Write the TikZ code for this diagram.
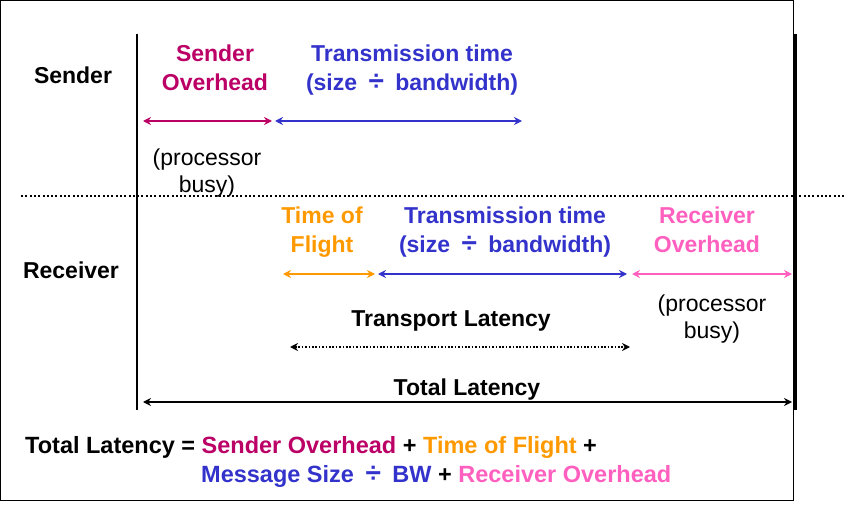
\documentclass[tikz,border=0pt]{standalone}
\usepackage{fontspec}
\setmainfont{Liberation Sans}
\usetikzlibrary{arrows.meta}
\definecolor{sendc}{RGB}{187,0,102}
\definecolor{bluec}{RGB}{51,51,204}
\definecolor{orangec}{RGB}{255,153,0}
\definecolor{pinkc}{RGB}{255,95,190}
\newcommand{\dvd}{\kern5pt{\fontsize{28}{29}\selectfont ÷}\kern5pt}
\tikzset{
  lbl/.style={font=\fontsize{23}{29}\selectfont\bfseries, align=center, inner sep=0pt},
  flbl/.style={font=\fontsize{23.5}{29}\selectfont\bfseries, inner sep=0pt, anchor=west},
  plain/.style={font=\fontsize{23}{27}\selectfont, align=center, inner sep=0pt},
  span/.style={line width=2.2pt, {Stealth[length=8pt,width=8pt]}-{Stealth[length=8pt,width=8pt]}},
}
\begin{document}
\begin{tikzpicture}[x=1pt,y=-1pt]
\useasboundingbox (0,0) rectangle (847,508);
\draw[line width=1pt] (0.5,0.5) rectangle (793,500);
% vertical lines
\coordinate (lt) at (137,34); \coordinate (lb) at (137,410);
\coordinate (rt) at (795,34); \coordinate (rb) at (795,410);
\draw[line width=2pt] (lt) -- (lb);
\draw[line width=3pt] (rt) -- (rb);
% dotted separator
\coordinate (ds) at (21,196); \coordinate (de) at (847,196);
\draw[line width=2pt, dash pattern=on 2pt off 2.3pt] (ds) -- (de);
% labels
\node[lbl] (sender) at (73,75) {Sender};
\node[lbl] (receiver) at (71,270) {Receiver};
\node[lbl, text=sendc] (so) at (215,68) {Sender\\Overhead};
\node[lbl, text=bluec] (tt1) at (412,70) {Transmission time\\(size \dvd{} bandwidth)};
\node[plain] (pb1) at (207,173) {(processor\\busy)};
\node[lbl, text=orangec] (tof) at (322,232) {Time of\\Flight};
\node[lbl, text=bluec] (tt2) at (505,232) {Transmission time\\(size \dvd{} bandwidth)};
\node[lbl, text=pinkc] (ro) at (707,230) {Receiver\\Overhead};
\node[plain] (pb2) at (712,319) {(processor\\busy)};
\node[lbl] (tl) at (451,321) {Transport Latency};
\node[lbl] (tot) at (467,390) {Total Latency};
% arrow endpoints
\coordinate (s1) at (143,121); \coordinate (s2) at (272,121);
\coordinate (s3) at (275,121); \coordinate (s4) at (522,121);
\coordinate (r1) at (283,274); \coordinate (r2) at (375,274);
\coordinate (r3) at (378,274); \coordinate (r4) at (627,274);
\coordinate (r5) at (632,274); \coordinate (r6) at (792,274);
\coordinate (t1) at (290,347); \coordinate (t2) at (630,347);
\coordinate (a1) at (143,402); \coordinate (a2) at (792,402);
\draw[span, sendc] (s1) -- (s2);
\draw[span, bluec] (s3) -- (s4);
\draw[span, orangec] (r1) -- (r2);
\draw[span, bluec] (r3) -- (r4);
\draw[span, pinkc] (r5) -- (r6);
\draw[line width=1.6pt, dash pattern=on 1.6pt off 1.8pt, {Stealth[length=8pt,width=8pt]}-{Stealth[length=8pt,width=8pt]}] (t1) -- (t2);
\draw[span, black] (a1) -- (a2);
% formula
\node[flbl] (f1) at (25,447) {Total Latency = \textcolor{sendc}{Sender Overhead} + \textcolor{orangec}{Time of Flight} +};
\node[flbl] (f2) at (201,476) {\textcolor{bluec}{Message Size \dvd{} BW} + \textcolor{pinkc}{Receiver Overhead}};
\end{tikzpicture}
\end{document}
